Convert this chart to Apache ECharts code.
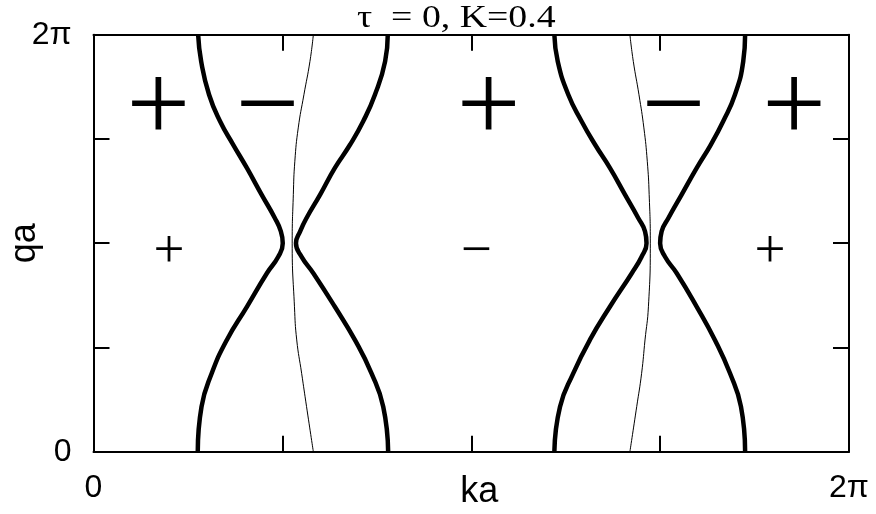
<!DOCTYPE html>
<html>
<head>
<meta charset="utf-8">
<script src="https://cdn.jsdelivr.net/npm/echarts@6/dist/echarts.min.js"></script>
<style>
	html, body { margin: 0; padding: 0; background: #fff; }
	#draw { width: 876px; height: 514px; }
</style>
</head>
<body>
<div id="draw"></div>
<script>
	// all values in units of pi
	const titleText = 'τ  = 0, K=0.4';
	const xTickLabels = { 0: '0', 2: '2π' };
	const yTickLabels = { 0: '0', 2: '2π' };

	// qa levels for the thick curves (top to bottom)
	const qaThick = [2.0, 1.872, 1.712, 1.585, 1.472, 1.361, 1.233, 1.121, 1.057, 1.0, 0.935, 0.856, 0.695, 0.536, 0.376, 0.216, 0];
	const kaLeftOuter = [0.277, 0.285, 0.306, 0.335, 0.370, 0.406, 0.445, 0.480, 0.496, 0.501, 0.489, 0.459, 0.406, 0.353, 0.313, 0.286, 0.276];
	const kaLeftInner = [0.779, 0.772, 0.745, 0.714, 0.679, 0.639, 0.600, 0.564, 0.547, 0.536, 0.551, 0.582, 0.639, 0.692, 0.736, 0.767, 0.780];
	const kaRightInner = [1.220, 1.229, 1.257, 1.292, 1.328, 1.367, 1.407, 1.442, 1.460, 1.464, 1.451, 1.425, 1.367, 1.314, 1.270, 1.235, 1.220];
	const kaRightOuter = [1.725, 1.720, 1.698, 1.667, 1.634, 1.597, 1.557, 1.522, 1.504, 1.500, 1.513, 1.544, 1.597, 1.645, 1.685, 1.714, 1.725];

	// thin curves
	const qaThin = [2.0, 1.872, 1.712, 1.553, 1.393, 1.233, 1.0, 0.695, 0.536, 0.376, 0.216, 0];
	const kaThinLeft = [0.582, 0.573, 0.557, 0.542, 0.533, 0.529, 0.526, 0.532, 0.538, 0.551, 0.564, 0.582];
	const kaThinRight = [1.420, 1.429, 1.444, 1.457, 1.466, 1.471, 1.474, 1.469, 1.460, 1.451, 1.438, 1.420];

	// sign labels
	const bigSignKa = [0.172, 0.461, 1.046, 1.536, 1.855];
	const bigSignQa = [1.670, 1.670, 1.670, 1.670, 1.670];
	const bigSignText = ['+', '−', '+', '−', '+'];
	const smallSignKa = [0.200, 1.013, 1.791];
	const smallSignQa = [0.98, 0.98, 0.98];
	const smallSignText = ['+', '−', '+'];

	function pairs(ka, qa) {
		return ka.map(function(k, i) { return [k, qa[i]]; });
	}

	function curve(ka, qa, width) {
		return {
			type: 'line',
			data: pairs(ka, qa),
			showSymbol: false,
			smooth: 0.5,
			clip: true,
			lineStyle: { color: '#000', width: width }
		};
	}

	function signs(ka, qa, text, size, dy) {
		return {
			type: 'scatter',
			data: pairs(ka, qa),
			symbolSize: 1,
			itemStyle: { color: 'transparent', opacity: 1 },
			label: {
				show: true,
				position: 'inside',
				offset: [0, dy], // glyph centre sits above the text box centre
				formatter: function(p) { return text[p.dataIndex]; },
				color: '#000',
				opacity: 1,
				fontFamily: 'Liberation Serif',
				fontSize: size,
				lineHeight: size
			}
		};
	}

	const axisCommon = {
		type: 'value',
		min: 0,
		max: 2,
		interval: 0.5,
		axisLine: { show: true, onZero: false, lineStyle: { color: '#000', width: 2 } },
		axisTick: { show: true, inside: true, length: 16, lineStyle: { color: '#000', width: 2 } },
		splitLine: { show: false }
	};

	let myChart = echarts.init(document.getElementById('draw'));
	myChart.setOption({
		animation: false,
		backgroundColor: '#fff',
		grid: {
			left: 93.5,
			right: 27,
			top: 34.7,
			bottom: 62.3,
			containLabel: false,
			outerBoundsMode: 'none'
		},
		graphic: [{
			type: 'text',
			x: 357,
			y: 3,
			scaleX: 1.22,
			style: {
				text: titleText,
				font: '31px "Liberation Serif"',
				fill: '#000',
				verticalAlign: 'top'
			}
		}],
		xAxis: [
			Object.assign({}, axisCommon, {
				position: 'bottom',
				name: 'ka',
				nameLocation: 'middle',
				nameGap: 22,
				nameMoveOverlap: false,
				nameTextStyle: { color: '#000', fontFamily: 'Liberation Sans', fontSize: 36, verticalAlign: 'top', padding: [0, 0, 0, 16] },
				axisLabel: {
					color: '#000',
					fontFamily: 'Liberation Sans',
					fontSize: 32,
					margin: 20,
					formatter: function(v) { return xTickLabels[v] || ''; }
				}
			}),
			Object.assign({}, axisCommon, {
				position: 'top',
				axisLabel: { show: false }
			})
		],
		yAxis: [
			Object.assign({}, axisCommon, {
				position: 'left',
				name: 'qa',
				nameLocation: 'middle',
				nameGap: 50,
				nameMoveOverlap: false,
				nameTextStyle: { color: '#000', fontFamily: 'Liberation Sans', fontSize: 36 },
				axisLabel: {
					color: '#000',
					fontFamily: 'Liberation Sans',
					fontSize: 32,
					margin: 22,
					formatter: function(v) { return yTickLabels[v] || ''; }
				}
			}),
			Object.assign({}, axisCommon, {
				position: 'right',
				axisLabel: { show: false }
			})
		],
		series: [
			curve(kaLeftOuter, qaThick, 4.5),
			curve(kaLeftInner, qaThick, 4.5),
			curve(kaRightInner, qaThick, 4.5),
			curve(kaRightOuter, qaThick, 4.5),
			curve(kaThinLeft, qaThin, 1),
			curve(kaThinRight, qaThin, 1),
			signs(bigSignKa, bigSignQa, bigSignText, 113, 8),
			signs(smallSignKa, smallSignQa, smallSignText, 55, 5)
		]
	});
</script>
</body>
</html>
